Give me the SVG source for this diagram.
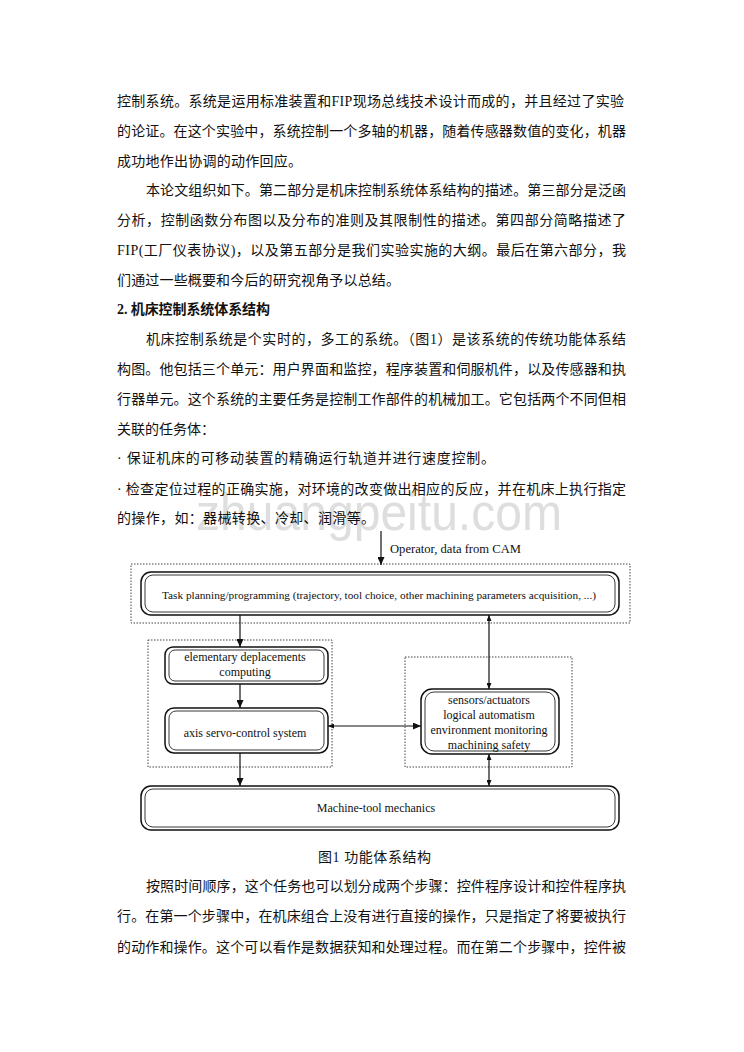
<svg xmlns="http://www.w3.org/2000/svg" width="744" height="1052" viewBox="0 0 744 1052">
<style>
.t{font-family:"Liberation Serif","Noto Sans CJK SC",serif;font-size:14px;fill:#111}
.b{font-weight:bold}
.d{font-family:"Liberation Serif","Times New Roman",serif;fill:#111}
.wm{font-family:"Liberation Sans",Arial,sans-serif;font-size:52px;fill:#dedede}
.o{fill:#fff;stroke:#111;stroke-width:1.5}
.i{fill:none;stroke:#222;stroke-width:0.9}
.dot{fill:none;stroke:#444;stroke-width:1;stroke-dasharray:1.5 1.5}
.c{fill:none;stroke:#111;stroke-width:1.2}
</style>
<defs>
<marker id="ah" markerWidth="8" markerHeight="7" refX="8" refY="3.5" orient="auto-start-reverse" markerUnits="userSpaceOnUse"><path d="M0,0 L8,3.5 L0,7 z" fill="#111"/></marker>
<marker id="sh" markerWidth="6" markerHeight="5" refX="6" refY="2.5" orient="auto-start-reverse" markerUnits="userSpaceOnUse"><path d="M0,0 L6,2.5 L0,5 z" fill="#111"/></marker>
</defs>
<rect width="744" height="1052" fill="#fff"/>
<text class="wm" x="196" y="530" textLength="366" lengthAdjust="spacingAndGlyphs">zhuangpeitu.com</text>
<g id="body-top">
<text class="t" x="117" y="106" textLength="507" lengthAdjust="spacing">控制系统。系统是运用标准装置和FIP现场总线技术设计而成的，并且经过了实验</text>
<text class="t" x="117" y="136" textLength="509" lengthAdjust="spacing">的论证。在这个实验中，系统控制一个多轴的机器，随着传感器数值的变化，机器</text>
<text class="t" x="117" y="166" textLength="185" lengthAdjust="spacing">成功地作出协调的动作回应。</text>
<text class="t" x="146" y="195" textLength="480" lengthAdjust="spacing">本论文组织如下。第二部分是机床控制系统体系结构的描述。第三部分是泛函</text>
<text class="t" x="117" y="225" textLength="509" lengthAdjust="spacing">分析，控制函数分布图以及分布的准则及其限制性的描述。第四部分简略描述了</text>
<text class="t" x="117" y="255" textLength="509" lengthAdjust="spacing">FIP(工厂仪表协议)，以及第五部分是我们实验实施的大纲。最后在第六部分，我</text>
<text class="t" x="117" y="285" textLength="283" lengthAdjust="spacing">们通过一些概要和今后的研究视角予以总结。</text>
<text class="t b" x="117" y="314" textLength="153" lengthAdjust="spacing">2. 机床控制系统体系结构</text>
<text class="t" x="146" y="344" textLength="480" lengthAdjust="spacing">机床控制系统是个实时的，多工的系统。（图1）是该系统的传统功能体系结</text>
<text class="t" x="117" y="374" textLength="509" lengthAdjust="spacing">构图。他包括三个单元：用户界面和监控，程序装置和伺服机件，以及传感器和执</text>
<text class="t" x="117" y="404" textLength="509" lengthAdjust="spacing">行器单元。这个系统的主要任务是控制工作部件的机械加工。它包括两个不同但相</text>
<text class="t" x="117" y="434">关联的任务体：</text>
<text class="t" x="117" y="463" textLength="378" lengthAdjust="spacing">· 保证机床的可移动装置的精确运行轨道并进行速度控制。</text>
<text class="t" x="117" y="494" textLength="509" lengthAdjust="spacing">· 检查定位过程的正确实施，对环境的改变做出相应的反应，并在机床上执行指定</text>
<text class="t" x="117" y="523" textLength="258" lengthAdjust="spacing">的操作，如：器械转换、冷却、润滑等。</text>
</g>
<g id="groups">
<rect class="dot" x="131" y="564" width="499" height="59"/>
<rect class="dot" x="148" y="640" width="184" height="127"/>
<rect class="dot" x="405" y="657" width="167" height="110"/>
</g>
<g id="connectors">
<line class="c" x1="381" y1="531" x2="381" y2="565" marker-end="url(#ah)"/>
<line class="c" x1="240" y1="615" x2="240" y2="647" marker-end="url(#ah)"/>
<line class="c" x1="240" y1="684" x2="240" y2="708" marker-end="url(#ah)"/>
<line class="c" x1="240" y1="753" x2="240" y2="786" marker-end="url(#ah)"/>
<line class="c" x1="489" y1="615" x2="489" y2="689" marker-start="url(#sh)" marker-end="url(#sh)"/>
<line class="c" x1="328" y1="726" x2="421" y2="726" marker-start="url(#sh)" marker-end="url(#ah)"/>
<line class="c" x1="489" y1="754" x2="489" y2="786" marker-start="url(#sh)" marker-end="url(#sh)"/>
</g>
<g id="operator">
<text class="d" x="390" y="553" font-size="12" textLength="131" lengthAdjust="spacingAndGlyphs">Operator, data from CAM</text>
</g>
<g id="task">
<rect class="o" x="141" y="572" width="478" height="43" rx="10"/>
<rect class="i" x="145" y="575" width="470" height="37" rx="8"/>
<text class="d" x="162" y="599" font-size="11" textLength="434" lengthAdjust="spacingAndGlyphs">Task planning/programming (trajectory, tool choice, other machining parameters acquisition, ...)</text>
</g>
<g id="elementary">
<rect class="o" x="165" y="647" width="163" height="37" rx="8"/>
<rect class="i" x="169" y="650" width="155" height="31" rx="6"/>
<text class="d" x="245" y="661" font-size="12" text-anchor="middle">elementary deplacements</text>
<text class="d" x="245" y="676" font-size="12" text-anchor="middle">computing</text>
</g>
<g id="axis">
<rect class="o" x="165" y="708" width="163" height="45" rx="9"/>
<rect class="i" x="169" y="711" width="155" height="39" rx="7"/>
<text class="d" x="245" y="737" font-size="12" text-anchor="middle">axis servo-control system</text>
</g>
<g id="sensors">
<rect class="o" x="421" y="689" width="138" height="65" rx="11"/>
<rect class="i" x="425" y="692" width="130" height="59" rx="9"/>
<text class="d" x="489" y="704" font-size="12" text-anchor="middle">sensors/actuators</text>
<text class="d" x="489" y="719" font-size="12" text-anchor="middle">logical automatism</text>
<text class="d" x="489" y="734" font-size="12" text-anchor="middle">environment monitoring</text>
<text class="d" x="489" y="749" font-size="12" text-anchor="middle">machining safety</text>
</g>
<g id="machine">
<rect class="o" x="141" y="786" width="478" height="44" rx="10"/>
<rect class="i" x="145" y="789" width="470" height="38" rx="8"/>
<text class="d" x="376" y="812" font-size="12" text-anchor="middle">Machine-tool mechanics</text>
</g>
<g id="body-bottom">
<text class="t" x="318" y="862" textLength="113" lengthAdjust="spacing">图1 功能体系结构</text>
<text class="t" x="146" y="891" textLength="480" lengthAdjust="spacing">按照时间顺序，这个任务也可以划分成两个步骤：控件程序设计和控件程序执</text>
<text class="t" x="117" y="921" textLength="509" lengthAdjust="spacing">行。在第一个步骤中，在机床组合上没有进行直接的操作，只是指定了将要被执行</text>
<text class="t" x="117" y="952" textLength="509" lengthAdjust="spacing">的动作和操作。这个可以看作是数据获知和处理过程。而在第二个步骤中，控件被</text>
</g>
</svg>
